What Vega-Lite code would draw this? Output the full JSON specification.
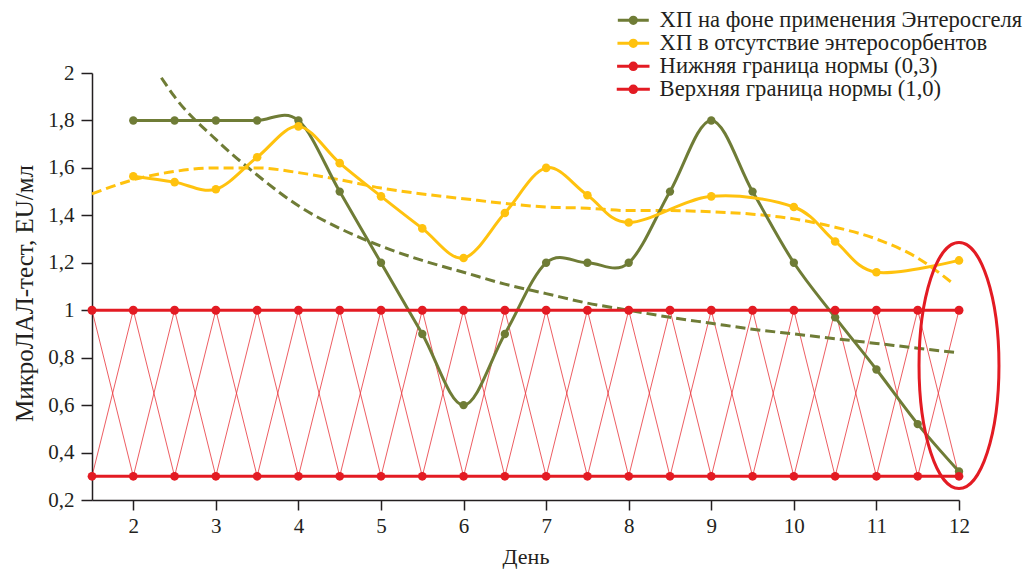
{
  "$schema": "https://vega.github.io/schema/vega-lite/v6.json",
  "width": 867,
  "height": 427,
  "autosize": "none",
  "padding": {"left": 92, "top": 73, "right": 72, "bottom": 73},
  "background": "white",
  "config": {
    "view": {"stroke": null},
    "font": "Liberation Serif",
    "axis": {"domainColor": "#231f20", "tickColor": "#231f20", "labelColor": "#231f20", "titleColor": "#231f20", "labelFont": "Liberation Serif", "titleFont": "Liberation Serif", "grid": false, "domainWidth": 1.5, "tickWidth": 1.5}
  },
  "datasets": {
    "d": [
      {"s": "ХП на фоне применения Энтеросгеля", "x": 2, "y": 1.8},
      {"s": "ХП на фоне применения Энтеросгеля", "x": 2.5, "y": 1.8},
      {"s": "ХП на фоне применения Энтеросгеля", "x": 3, "y": 1.8},
      {"s": "ХП на фоне применения Энтеросгеля", "x": 3.5, "y": 1.8},
      {"s": "ХП на фоне применения Энтеросгеля", "x": 4, "y": 1.8},
      {"s": "ХП на фоне применения Энтеросгеля", "x": 4.5, "y": 1.5},
      {"s": "ХП на фоне применения Энтеросгеля", "x": 5, "y": 1.2},
      {"s": "ХП на фоне применения Энтеросгеля", "x": 5.5, "y": 0.9},
      {"s": "ХП на фоне применения Энтеросгеля", "x": 6, "y": 0.6},
      {"s": "ХП на фоне применения Энтеросгеля", "x": 6.5, "y": 0.9},
      {"s": "ХП на фоне применения Энтеросгеля", "x": 7, "y": 1.2},
      {"s": "ХП на фоне применения Энтеросгеля", "x": 7.5, "y": 1.2},
      {"s": "ХП на фоне применения Энтеросгеля", "x": 8, "y": 1.2},
      {"s": "ХП на фоне применения Энтеросгеля", "x": 8.5, "y": 1.5},
      {"s": "ХП на фоне применения Энтеросгеля", "x": 9, "y": 1.8},
      {"s": "ХП на фоне применения Энтеросгеля", "x": 9.5, "y": 1.5},
      {"s": "ХП на фоне применения Энтеросгеля", "x": 10, "y": 1.2},
      {"s": "ХП на фоне применения Энтеросгеля", "x": 10.5, "y": 0.97},
      {"s": "ХП на фоне применения Энтеросгеля", "x": 11, "y": 0.75},
      {"s": "ХП на фоне применения Энтеросгеля", "x": 11.5, "y": 0.52},
      {"s": "ХП на фоне применения Энтеросгеля", "x": 12, "y": 0.32},
      {"s": "ХП в отсутствие энтеросорбентов", "x": 2, "y": 1.565},
      {"s": "ХП в отсутствие энтеросорбентов", "x": 2.5, "y": 1.54},
      {"s": "ХП в отсутствие энтеросорбентов", "x": 3, "y": 1.51},
      {"s": "ХП в отсутствие энтеросорбентов", "x": 3.5, "y": 1.645},
      {"s": "ХП в отсутствие энтеросорбентов", "x": 4, "y": 1.775},
      {"s": "ХП в отсутствие энтеросорбентов", "x": 4.5, "y": 1.62},
      {"s": "ХП в отсутствие энтеросорбентов", "x": 5, "y": 1.48},
      {"s": "ХП в отсутствие энтеросорбентов", "x": 5.5, "y": 1.345},
      {"s": "ХП в отсутствие энтеросорбентов", "x": 6, "y": 1.22},
      {"s": "ХП в отсутствие энтеросорбентов", "x": 6.5, "y": 1.41},
      {"s": "ХП в отсутствие энтеросорбентов", "x": 7, "y": 1.6},
      {"s": "ХП в отсутствие энтеросорбентов", "x": 7.5, "y": 1.485},
      {"s": "ХП в отсутствие энтеросорбентов", "x": 8, "y": 1.37},
      {"s": "ХП в отсутствие энтеросорбентов", "x": 9, "y": 1.48},
      {"s": "ХП в отсутствие энтеросорбентов", "x": 10, "y": 1.435},
      {"s": "ХП в отсутствие энтеросорбентов", "x": 10.5, "y": 1.29},
      {"s": "ХП в отсутствие энтеросорбентов", "x": 11, "y": 1.16},
      {"s": "ХП в отсутствие энтеросорбентов", "x": 12, "y": 1.21},
      {"s": "Нижняя граница нормы (0,3)", "x": 1.5, "y": 0.3},
      {"s": "Нижняя граница нормы (0,3)", "x": 2, "y": 0.3},
      {"s": "Нижняя граница нормы (0,3)", "x": 2.5, "y": 0.3},
      {"s": "Нижняя граница нормы (0,3)", "x": 3, "y": 0.3},
      {"s": "Нижняя граница нормы (0,3)", "x": 3.5, "y": 0.3},
      {"s": "Нижняя граница нормы (0,3)", "x": 4, "y": 0.3},
      {"s": "Нижняя граница нормы (0,3)", "x": 4.5, "y": 0.3},
      {"s": "Нижняя граница нормы (0,3)", "x": 5, "y": 0.3},
      {"s": "Нижняя граница нормы (0,3)", "x": 5.5, "y": 0.3},
      {"s": "Нижняя граница нормы (0,3)", "x": 6, "y": 0.3},
      {"s": "Нижняя граница нормы (0,3)", "x": 6.5, "y": 0.3},
      {"s": "Нижняя граница нормы (0,3)", "x": 7, "y": 0.3},
      {"s": "Нижняя граница нормы (0,3)", "x": 7.5, "y": 0.3},
      {"s": "Нижняя граница нормы (0,3)", "x": 8, "y": 0.3},
      {"s": "Нижняя граница нормы (0,3)", "x": 8.5, "y": 0.3},
      {"s": "Нижняя граница нормы (0,3)", "x": 9, "y": 0.3},
      {"s": "Нижняя граница нормы (0,3)", "x": 9.5, "y": 0.3},
      {"s": "Нижняя граница нормы (0,3)", "x": 10, "y": 0.3},
      {"s": "Нижняя граница нормы (0,3)", "x": 10.5, "y": 0.3},
      {"s": "Нижняя граница нормы (0,3)", "x": 11, "y": 0.3},
      {"s": "Нижняя граница нормы (0,3)", "x": 11.5, "y": 0.3},
      {"s": "Нижняя граница нормы (0,3)", "x": 12, "y": 0.3},
      {"s": "Верхняя граница нормы (1,0)", "x": 1.5, "y": 1},
      {"s": "Верхняя граница нормы (1,0)", "x": 2, "y": 1},
      {"s": "Верхняя граница нормы (1,0)", "x": 2.5, "y": 1},
      {"s": "Верхняя граница нормы (1,0)", "x": 3, "y": 1},
      {"s": "Верхняя граница нормы (1,0)", "x": 3.5, "y": 1},
      {"s": "Верхняя граница нормы (1,0)", "x": 4, "y": 1},
      {"s": "Верхняя граница нормы (1,0)", "x": 4.5, "y": 1},
      {"s": "Верхняя граница нормы (1,0)", "x": 5, "y": 1},
      {"s": "Верхняя граница нормы (1,0)", "x": 5.5, "y": 1},
      {"s": "Верхняя граница нормы (1,0)", "x": 6, "y": 1},
      {"s": "Верхняя граница нормы (1,0)", "x": 6.5, "y": 1},
      {"s": "Верхняя граница нормы (1,0)", "x": 7, "y": 1},
      {"s": "Верхняя граница нормы (1,0)", "x": 7.5, "y": 1},
      {"s": "Верхняя граница нормы (1,0)", "x": 8, "y": 1},
      {"s": "Верхняя граница нормы (1,0)", "x": 8.5, "y": 1},
      {"s": "Верхняя граница нормы (1,0)", "x": 9, "y": 1},
      {"s": "Верхняя граница нормы (1,0)", "x": 9.5, "y": 1},
      {"s": "Верхняя граница нормы (1,0)", "x": 10, "y": 1},
      {"s": "Верхняя граница нормы (1,0)", "x": 10.5, "y": 1},
      {"s": "Верхняя граница нормы (1,0)", "x": 11, "y": 1},
      {"s": "Верхняя граница нормы (1,0)", "x": 11.5, "y": 1},
      {"s": "Верхняя граница нормы (1,0)", "x": 12, "y": 1}
    ],
    "zig": [
      {"s": "a", "x": 1.5, "y": 1}, {"s": "a", "x": 2, "y": 0.3}, {"s": "a", "x": 2.5, "y": 1}, {"s": "a", "x": 3, "y": 0.3},
      {"s": "a", "x": 3.5, "y": 1}, {"s": "a", "x": 4, "y": 0.3}, {"s": "a", "x": 4.5, "y": 1}, {"s": "a", "x": 5, "y": 0.3},
      {"s": "a", "x": 5.5, "y": 1}, {"s": "a", "x": 6, "y": 0.3}, {"s": "a", "x": 6.5, "y": 1}, {"s": "a", "x": 7, "y": 0.3},
      {"s": "a", "x": 7.5, "y": 1}, {"s": "a", "x": 8, "y": 0.3}, {"s": "a", "x": 8.5, "y": 1}, {"s": "a", "x": 9, "y": 0.3},
      {"s": "a", "x": 9.5, "y": 1}, {"s": "a", "x": 10, "y": 0.3}, {"s": "a", "x": 10.5, "y": 1}, {"s": "a", "x": 11, "y": 0.3},
      {"s": "a", "x": 11.5, "y": 1}, {"s": "a", "x": 12, "y": 0.3},
      {"s": "b", "x": 1.5, "y": 0.3}, {"s": "b", "x": 2, "y": 1}, {"s": "b", "x": 2.5, "y": 0.3}, {"s": "b", "x": 3, "y": 1},
      {"s": "b", "x": 3.5, "y": 0.3}, {"s": "b", "x": 4, "y": 1}, {"s": "b", "x": 4.5, "y": 0.3}, {"s": "b", "x": 5, "y": 1},
      {"s": "b", "x": 5.5, "y": 0.3}, {"s": "b", "x": 6, "y": 1}, {"s": "b", "x": 6.5, "y": 0.3}, {"s": "b", "x": 7, "y": 1},
      {"s": "b", "x": 7.5, "y": 0.3}, {"s": "b", "x": 8, "y": 1}, {"s": "b", "x": 8.5, "y": 0.3}, {"s": "b", "x": 9, "y": 1},
      {"s": "b", "x": 9.5, "y": 0.3}, {"s": "b", "x": 10, "y": 1}, {"s": "b", "x": 10.5, "y": 0.3}, {"s": "b", "x": 11, "y": 1},
      {"s": "b", "x": 11.5, "y": 0.3}, {"s": "b", "x": 12, "y": 1}
    ],
    "trendO": [
      {"x": 2.34, "y": 1.98}, {"x": 2.5, "y": 1.9}, {"x": 3, "y": 1.72}, {"x": 3.5, "y": 1.57}, {"x": 4, "y": 1.44},
      {"x": 4.5, "y": 1.345}, {"x": 5, "y": 1.27}, {"x": 5.5, "y": 1.21}, {"x": 6, "y": 1.16}, {"x": 6.5, "y": 1.11},
      {"x": 7, "y": 1.07}, {"x": 7.5, "y": 1.03}, {"x": 8, "y": 1.0}, {"x": 8.5, "y": 0.97}, {"x": 9, "y": 0.945},
      {"x": 9.5, "y": 0.92}, {"x": 10, "y": 0.9}, {"x": 10.5, "y": 0.88}, {"x": 11, "y": 0.86}, {"x": 11.5, "y": 0.84}, {"x": 12, "y": 0.82}
    ],
    "trendY": [
      {"x": 1.5, "y": 1.49}, {"x": 2, "y": 1.55}, {"x": 2.5, "y": 1.585}, {"x": 3, "y": 1.6}, {"x": 3.5, "y": 1.6},
      {"x": 4, "y": 1.58}, {"x": 4.5, "y": 1.55}, {"x": 5, "y": 1.515}, {"x": 5.5, "y": 1.49}, {"x": 6, "y": 1.47},
      {"x": 6.5, "y": 1.45}, {"x": 7, "y": 1.435}, {"x": 7.5, "y": 1.43}, {"x": 8, "y": 1.42}, {"x": 8.5, "y": 1.42},
      {"x": 9, "y": 1.415}, {"x": 9.5, "y": 1.405}, {"x": 10, "y": 1.385}, {"x": 10.5, "y": 1.35}, {"x": 11, "y": 1.3},
      {"x": 11.5, "y": 1.22}, {"x": 11.9, "y": 1.12}
    ],
    "ell": [{"x": 12, "y": 0.767}]
  },
  "encoding": {
    "x": {"field": "x", "type": "quantitative", "scale": {"domain": [1.5, 12], "nice": false, "zero": false},
      "axis": {"values": [2, 3, 4, 5, 6, 7, 8, 9, 10, 11, 12], "title": "День", "labelFontSize": 21, "titleFontSize": 22, "titleFontWeight": "normal", "tickSize": 10, "labelPadding": 5, "titlePadding": 10, "labelFlush": false}},
    "y": {"field": "y", "type": "quantitative", "scale": {"domain": [0.2, 2], "nice": false, "zero": false},
      "axis": {"values": [0.2, 0.4, 0.6, 0.8, 1, 1.2, 1.4, 1.6, 1.8, 2], "labelExpr": "replace(format(datum.value, '~g'), '.', ',')", "title": "МикроЛАЛ-тест, EU/мл", "labelFontSize": 21, "titleFontSize": 25, "titleFontWeight": "normal", "tickSize": 11, "labelPadding": 7, "titleX": -68, "titleY": 220, "titleAngle": -90, "titleAlign": "center", "titleBaseline": "middle", "labelFlush": false}}
  },
  "layer": [
    {"data": {"name": "zig"}, "mark": {"type": "line", "color": "#e8343b", "strokeWidth": 1, "opacity": 0.8}, "encoding": {"detail": {"field": "s"}}},
    {"data": {"name": "trendO"}, "mark": {"type": "line", "color": "#6f7c36", "strokeWidth": 3, "strokeDash": [10, 5], "interpolate": "monotone"}, "encoding": {}},
    {"data": {"name": "trendY"}, "mark": {"type": "line", "color": "#ffc20e", "strokeWidth": 3, "strokeDash": [10, 5], "interpolate": "monotone"}, "encoding": {}},
    {"data": {"name": "d"}, "mark": {"type": "line", "interpolate": "cardinal"},
      "encoding": {
        "color": {"field": "s", "type": "nominal",
          "scale": {"domain": ["ХП на фоне применения Энтеросгеля", "ХП в отсутствие энтеросорбентов", "Нижняя граница нормы (0,3)", "Верхняя граница нормы (1,0)"], "range": ["#6f7c36", "#ffc20e", "#e31b23", "#e31b23"]},
          "legend": {"title": null, "orient": "none", "legendX": 530, "legendY": -64, "labelFontSize": 22.6, "labelLimit": 0, "labelFont": "Liberation Serif", "labelColor": "#231f20", "symbolType": "M-3.7,0H3.7M0.74,0A0.74,0.74 0 1,1 -0.74,0A0.74,0.74 0 1,1 0.74,0Z", "symbolStrokeWidth": 3, "labelOffset": 15, "rowPadding": -1.5, "padding": 0,
            "encode": {"symbols": {"update": {"fill": {"scale": "color", "field": "value"}, "stroke": {"scale": "color", "field": "value"}, "opacity": {"value": 1}, "strokeWidth": {"value": 3}}}}}},
        "strokeWidth": {"field": "s", "type": "nominal", "scale": {"domain": ["ХП на фоне применения Энтеросгеля", "ХП в отсутствие энтеросорбентов", "Нижняя граница нормы (0,3)", "Верхняя граница нормы (1,0)"], "range": [3, 3, 2.2, 1.1]}, "legend": null}
      }},
    {"data": {"name": "d"}, "mark": {"type": "point", "filled": true, "opacity": 1},
      "encoding": {
        "color": {"field": "s", "type": "nominal"},
        "size": {"field": "s", "type": "nominal", "scale": {"domain": ["ХП на фоне применения Энтеросгеля", "ХП в отсутствие энтеросорбентов", "Нижняя граница нормы (0,3)", "Верхняя граница нормы (1,0)"], "range": [70, 80, 36, 36]}, "legend": null}
      }},
    {"data": {"name": "ell"}, "mark": {"type": "point", "filled": false, "color": "#e31b23", "strokeWidth": 3, "opacity": 1, "size": 60516, "shape": "M0.325,0A0.325,1 0 1,1 -0.325,0A0.325,1 0 1,1 0.325,0Z"}, "encoding": {}}
  ]
}
